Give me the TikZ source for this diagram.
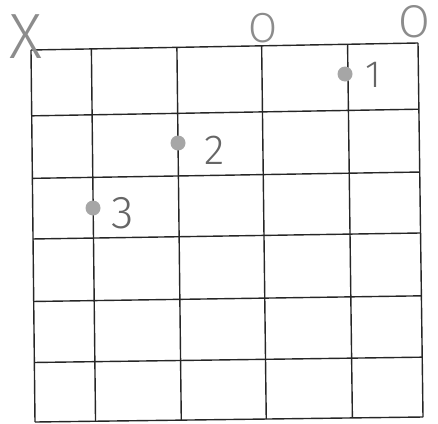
\documentclass[tikz,border=0pt]{standalone}
\usepackage{fontspec}
\newfontfamily\markfont{Fira Sans Light}
\usetikzlibrary{calc,positioning}

\begin{document}
\begin{tikzpicture}[x=1pt,y=-1pt,
  grid line/.style={draw=black!85,line width=1.4pt},
  stone/.style={circle,fill=black!35,minimum size=15pt,inner sep=0pt},
  tag/.style={text=black!60,inner sep=0pt,font=\markfont\fontsize{#1}{#1}\selectfont},
  player/.style={text=black!45,inner sep=0pt,font=\markfont\fontsize{#1}{#1}\selectfont}]
  \useasboundingbox (0,0) rectangle (438,423);
  % corners of the board
  \coordinate (tl) at (31,50);
  \coordinate (tr) at (418,43);
  \coordinate (bl) at (35,422);
  \coordinate (br) at (423,417);
  % columns and rows
  \foreach \f in {0,0.156,0.377,0.596,0.818,1}
    \draw[grid line] ($(tl)!\f!(tr)$) -- ($(bl)!\f!(br)$);
  \foreach \f in {0,0.177,0.345,0.508,0.676,0.840,1}
    \draw[grid line] ($(tl)!\f!(bl)$) -- ($(tr)!\f!(br)$);
  % marks above the board
  \node[player=64] (x) at (26,37) {X};
  \node[player=42] (o1) at (263,28) {O};
  \node[player=46] (o2) at (414,22) {O};
  % numbered stones
  \node[stone] (s1) at (345,74) {};
  \node[tag=38] (t1) at (373,75) {1};
  \node[stone] (s2) at (178,143) {};
  \node[tag=42] (t2) at (215,150) {2};
  \node[stone] (s3) at (93,208) {};
  \node[tag=46] (t3) at (123,213) {3};
\end{tikzpicture}
\end{document}
